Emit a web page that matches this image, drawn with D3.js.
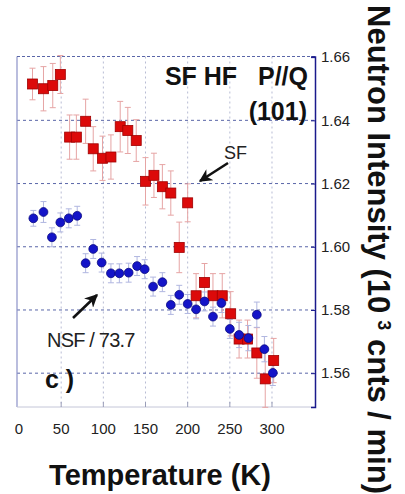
<!DOCTYPE html>
<html>
<head>
<meta charset="utf-8">
<script src="https://cdn.jsdelivr.net/npm/d3@7"></script>
<style>
  html, body { margin: 0; padding: 0; background: #fff; }
  svg { display: block; }
  text { font-family: "Liberation Sans", Arial, Helvetica, sans-serif; white-space: pre; }
</style>
</head>
<body>
<svg id="chart" width="405" height="494"></svg>
<script>
// ---- data ----
const sfTemp  = [16, 29, 40, 49, 60, 68, 79, 88, 99, 109, 120, 129, 139, 150, 160, 170, 180, 190, 200, 210, 220, 230, 241, 251, 261, 271, 282, 292, 302];
const sfValue = [1.6515, 1.6500, 1.6510, 1.6545, 1.6347, 1.6347, 1.6397, 1.6310, 1.6280, 1.6284, 1.6380, 1.6368, 1.6336, 1.6207, 1.6226, 1.6190, 1.6170, 1.5998, 1.6139, 1.5845, 1.5887, 1.5845, 1.5845, 1.5788, 1.5708, 1.5708, 1.5664, 1.5582, 1.5640];
const sfError = [0.005, 0.007, 0.007, 0.006, 0.007, 0.007, 0.007, 0.007, 0.007, 0.007, 0.008, 0.0073, 0.0066, 0.0075, 0.007, 0.007, 0.007, 0.008, 0.006, 0.007, 0.006, 0.007, 0.007, 0.007, 0.006, 0.006, 0.008, 0.009, 0.007];

const nsfTemp  = [17, 29, 39, 49, 59, 69, 79, 88, 98, 109, 119, 130, 140, 149, 159, 170, 180, 190, 200, 210, 220, 230, 240, 250, 261, 272, 282, 291, 301];
const nsfValue = [1.6090, 1.6110, 1.6030, 1.6077, 1.6090, 1.6098, 1.5948, 1.5993, 1.5950, 1.5916, 1.5916, 1.5918, 1.5939, 1.5929, 1.5874, 1.5888, 1.5816, 1.5848, 1.5819, 1.5802, 1.5827, 1.5779, 1.5822, 1.5740, 1.5721, 1.5711, 1.5785, 1.5676, 1.5601];
const nsfError = [0.0025, 0.0033, 0.003, 0.003, 0.003, 0.003, 0.003, 0.003, 0.003, 0.003, 0.003, 0.003, 0.003, 0.003, 0.003, 0.003, 0.003, 0.003, 0.003, 0.003, 0.003, 0.003, 0.003, 0.003, 0.004, 0.004, 0.004, 0.004, 0.004];

const xTicks = [0, 50, 100, 150, 200, 250, 300];
const yTicks = [1.56, 1.58, 1.60, 1.62, 1.64, 1.66];
const xTitle = "Temperature (K)";
const yTitle = ["Neutron Intensity (10", "3", " cnts / min)"];

// ---- layout ----
const svg = d3.select("#chart");
const frame = { left: 17, right: 315, top: 56.5, bottom: 407 };
const x = d3.scaleLinear().domain([-2.4, 351]).range([frame.left, frame.right]);
const y = d3.scaleLinear().domain([1.5493, 1.6602]).range([frame.bottom, frame.top]);

// grid
const g = svg.append("g");
g.selectAll(".vgrid").data(xTicks.filter(d => d > 0)).join("line")
  .attr("x1", d => x(d)).attr("x2", d => x(d))
  .attr("y1", frame.top).attr("y2", frame.bottom)
  .attr("stroke", "#b8bcd4").attr("stroke-width", 1).attr("stroke-dasharray", "2,3");
g.selectAll(".hgrid").data(yTicks.filter(d => d < 1.66)).join("line")
  .attr("x1", frame.left).attr("x2", frame.right)
  .attr("y1", d => y(d)).attr("y2", d => y(d))
  .attr("stroke", "#5a66a8").attr("stroke-width", 1).attr("stroke-dasharray", "3,3");

// frame: left, top, bottom
g.append("line").attr("x1", frame.left).attr("x2", frame.left).attr("y1", frame.top).attr("y2", frame.bottom)
  .attr("stroke", "#8c92c8").attr("stroke-width", 1.2);
g.append("line").attr("x1", frame.left).attr("x2", frame.right).attr("y1", frame.top).attr("y2", frame.top)
  .attr("stroke", "#5a66a8").attr("stroke-width", 1).attr("stroke-dasharray", "3,2");
g.append("line").attr("x1", frame.left).attr("x2", frame.right).attr("y1", frame.bottom).attr("y2", frame.bottom)
  .attr("stroke", "#c4c6d8").attr("stroke-width", 1);
g.selectAll(".bt").data(xTicks.filter(d => d > 0)).join("line")
  .attr("x1", d => x(d)).attr("x2", d => x(d))
  .attr("y1", frame.bottom).attr("y2", frame.bottom - 5)
  .attr("stroke", "#9a9eb8").attr("stroke-width", 1);

// right axis (solid navy) with labels
const yAxis = d3.axisRight(y).tickValues(yTicks).tickSize(-4).tickPadding(6)
  .tickFormat(d3.format(".2f"));
const ya = svg.append("g").attr("transform", `translate(${frame.right},0)`).call(yAxis);
ya.select(".domain").attr("stroke", "#1a1a8c").attr("stroke-width", 1.5);
ya.selectAll(".tick line").attr("stroke", "#1a1a8c");
ya.selectAll(".tick text").attr("font-size", 15).attr("fill", "#222")
  .attr("font-family", "Liberation Sans, Arial, sans-serif");

// bottom tick labels
svg.append("g").selectAll("text").data(xTicks).join("text")
  .attr("x", d => x(d)).attr("y", 434)
  .attr("text-anchor", "middle").attr("font-size", 15).attr("fill", "#222")
  .text(d => d);

// ---- series ----
const sf = sfTemp.map((t, i) => ({ t, v: sfValue[i], e: sfError[i] }));
const nsf = nsfTemp.map((t, i) => ({ t, v: nsfValue[i], e: nsfError[i] }));

function errorBars(data, color) {
  const eb = svg.append("g").attr("stroke", color).attr("stroke-width", 1);
  eb.selectAll(".v").data(data).join("line")
    .attr("x1", d => x(d.t)).attr("x2", d => x(d.t))
    .attr("y1", d => y(d.v - d.e)).attr("y2", d => y(d.v + d.e));
  eb.selectAll(".c1").data(data).join("line")
    .attr("x1", d => x(d.t) - 3).attr("x2", d => x(d.t) + 3)
    .attr("y1", d => y(d.v + d.e)).attr("y2", d => y(d.v + d.e));
  eb.selectAll(".c2").data(data).join("line")
    .attr("x1", d => x(d.t) - 3).attr("x2", d => x(d.t) + 3)
    .attr("y1", d => y(d.v - d.e)).attr("y2", d => y(d.v - d.e));
}
errorBars(sf, "#e6a4a4");
errorBars(nsf, "#b0b6e0");

const sq = 10;
svg.append("g").selectAll("rect").data(sf).join("rect")
  .attr("x", d => x(d.t) - sq / 2).attr("y", d => y(d.v) - sq / 2)
  .attr("width", sq).attr("height", sq)
  .attr("fill", "#dc0a0a").attr("stroke", "#a00000").attr("stroke-width", 0.8);

svg.append("g").selectAll("circle").data(nsf).join("circle")
  .attr("cx", d => x(d.t)).attr("cy", d => y(d.v)).attr("r", 4.4)
  .attr("fill", "#1414c8").attr("stroke", "#0a0a80").attr("stroke-width", 0.8);

// ---- annotations ----
svg.append("text").attr("x", 308).attr("y", 85).attr("text-anchor", "end")
  .attr("font-size", 25).attr("font-weight", "bold").attr("fill", "#111")
  .text("SF HF   P//Q");
svg.append("text").attr("x", 307).attr("y", 120).attr("text-anchor", "end")
  .attr("font-size", 25).attr("font-weight", "bold").attr("fill", "#111")
  .text("(101)");
svg.append("text").attr("x", 224).attr("y", 159)
  .attr("font-size", 18).attr("fill", "#222").text("SF");
svg.append("text").attr("x", 47).attr("y", 347)
  .attr("font-size", 20).attr("fill", "#222").attr("letter-spacing", -0.8).text("NSF / 73.7");
svg.append("text").attr("x", 45).attr("y", 388)
  .attr("font-size", 25).attr("font-weight", "bold").attr("fill", "#111").text("c )");

// arrows
const defs = svg.append("defs");
defs.append("marker").attr("id", "ah").attr("viewBox", "0 0 10 10")
  .attr("refX", 9).attr("refY", 5).attr("markerWidth", 5).attr("markerHeight", 5)
  .attr("markerUnits", "strokeWidth").attr("orient", "auto")
  .append("path").attr("d", "M0,0 L10,5 L0,10 L3,5 Z").attr("fill", "#111");
svg.append("line").attr("x1", 228).attr("y1", 163).attr("x2", 200).attr("y2", 181)
  .attr("stroke", "#111").attr("stroke-width", 2.6).attr("marker-end", "url(#ah)");
svg.append("line").attr("x1", 73).attr("y1", 318).attr("x2", 97).attr("y2", 295)
  .attr("stroke", "#111").attr("stroke-width", 2.6).attr("marker-end", "url(#ah)");

// axis titles
svg.append("text").attr("x", 160).attr("y", 485).attr("text-anchor", "middle")
  .attr("font-size", 29).attr("font-weight", "bold").attr("fill", "#111").text(xTitle);

const yt = svg.append("text").attr("transform", "translate(368,5) rotate(90)")
  .attr("font-size", 31).attr("font-weight", "bold").attr("fill", "#111");
yt.append("tspan").text(yTitle[0]);
yt.append("tspan").attr("dy", -10).attr("dx", 7).attr("font-size", 18).text(yTitle[1]);
yt.append("tspan").attr("dy", 10).text(yTitle[2]);
</script>
</body>
</html>
